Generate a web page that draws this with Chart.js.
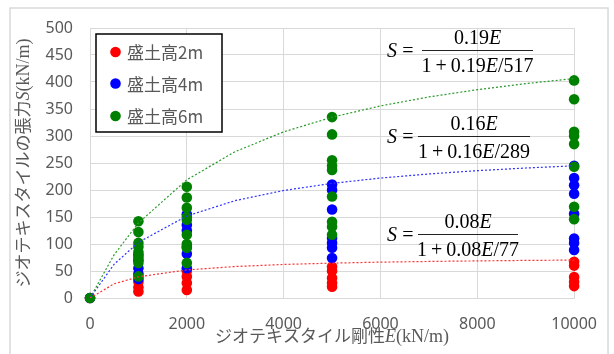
<!DOCTYPE html>
<html>
<head>
<meta charset="utf-8">
<script src="https://cdn.jsdelivr.net/npm/chart.js@4.4.0/dist/chart.umd.min.js"></script>
<style>
html, body { margin: 0; padding: 0; background: #fff; }
</style>
</head>
<body>
<canvas id="geoChart" width="614" height="354"></canvas>
<script>
// stiffness E (kN/m) at which tension was measured
const stiffness = [0, 1000, 2000, 5000, 10000];

// tension S (kN/m) per embankment height, one list per stiffness value
const tension2m = [[0], [12, 20, 30], [15, 28, 40, 50], [21, 28, 37, 50, 58], [22, 30, 39, 60, 67]];
const tension4m = [[0], [35, 45, 55, 70, 80], [55, 82, 95, 125, 135, 155], [74, 93, 102, 111, 164, 200, 210], [89, 102, 110, 156, 193, 209, 222, 245]];
const tension6m = [[0], [40, 65, 75, 85, 95, 102, 122, 142], [65, 93, 100, 117, 145, 150, 167, 186, 206], [117, 132, 141, 188, 237, 245, 255, 303, 335], [146, 169, 243, 285, 300, 308, 368, 403]];

const trendE = [0, 500, 1000, 2000, 3000, 4000, 5000, 6000, 7000, 8000, 9000, 10000];
const trend2m = [0, 26.3, 39.2, 52.0, 58.3, 62.1, 64.6, 66.4, 67.7, 68.7, 69.6, 70.2];
const trend4m = [0, 62.7, 103.0, 151.9, 180.4, 199.1, 212.3, 222.1, 229.7, 235.8, 240.7, 244.8];
const trend6m = [0, 80.3, 138.9, 219.0, 271.1, 307.7, 334.8, 355.7, 372.3, 385.8, 397.0, 406.4];

const seriesLabels = ['盛土高2m', '盛土高4m', '盛土高6m'];
const seriesColors = ['#ff0000', '#0000ff', '#008000'];
const trendColors = ['#ff3030', '#3030ff', '#2a9a2a'];

function toPoints(groups) {
    var pts = [];
    groups.forEach(function (vals, i) {
        vals.forEach(function (v) { pts.push({ x: stiffness[i], y: v }); });
    });
    return pts;
}

function toLine(ys) {
    return trendE.map(function (e, i) { return { x: e, y: ys[i] }; });
}

const allTension = [tension2m, tension4m, tension6m];
const allTrend = [trend2m, trend4m, trend6m];

var datasets = [];
for (var i = 0; i < 3; i++) {
    datasets.push({
        label: seriesLabels[i],
        data: toPoints(allTension[i]),
        backgroundColor: seriesColors[i],
        borderColor: seriesColors[i],
        borderWidth: 0,
        pointRadius: 5.3,
        clip: false,
        order: 3 - i
    });
}
for (var j = 0; j < 3; j++) {
    datasets.push({
        label: 'trend' + j,
        data: toLine(allTrend[j]),
        showLine: true,
        borderColor: trendColors[j],
        borderWidth: 1.2,
        borderDash: [2, 2],
        pointRadius: 0,
        fill: false,
        order: 0
    });
}

// draw text made of runs with different fonts, centred on cx
function drawRuns(ctx, runs, cx, baseline) {
    var total = 0;
    runs.forEach(function (r) { ctx.font = r.f; r.w = ctx.measureText(r.t).width; total += r.w; });
    var x = cx - total / 2;
    ctx.textAlign = 'left';
    ctx.textBaseline = 'alphabetic';
    runs.forEach(function (r) { ctx.font = r.f; ctx.fillText(r.t, x, baseline); x += r.w; });
}

const serif = '20px "Liberation Serif"';
const serifIt = 'italic 20px "Liberation Serif"';

function drawEquation(ctx, coef, smax, x1, x2, lineY) {
    ctx.fillStyle = '#000';
    ctx.font = serifIt;
    ctx.textAlign = 'left';
    ctx.textBaseline = 'alphabetic';
    ctx.fillText('S', 387, lineY + 7);
    ctx.font = serif;
    ctx.textAlign = 'center';
    ctx.fillText('=', 408, lineY + 7);
    ctx.strokeStyle = '#222';
    ctx.lineWidth = 1;
    ctx.beginPath();
    ctx.moveTo(x1, lineY + 0.5);
    ctx.lineTo(x2, lineY + 0.5);
    ctx.stroke();
    var cx = (x1 + x2) / 2;
    drawRuns(ctx, [{ t: coef, f: serif }, { t: 'E', f: serifIt }], cx, lineY - 6);
    drawRuns(ctx, [{ t: '1\u2009+\u2009' + coef, f: serif }, { t: 'E', f: serifIt }, { t: '/' + smax, f: serif }], cx, lineY + 22);
}

const decorPlugin = {
    id: 'decor',
    beforeDraw: function (chart) {
        var ctx = chart.ctx;
        ctx.save();
        ctx.strokeStyle = '#d9d9d9';
        ctx.lineWidth = 1.5;
        ctx.strokeRect(10, 8, 598, 360);
        ctx.restore();
    },
    afterDraw: function (chart) {
        var ctx = chart.ctx;
        ctx.save();
        // axis titles
        ctx.fillStyle = '#595959';
        drawRuns(ctx, [
            { t: 'ジオテキスタイル剛性', f: '17px "Noto Sans CJK JP"' },
            { t: 'E', f: 'italic 18px "Liberation Serif"' },
            { t: '(kN/m)', f: '18px "Liberation Serif"' }
        ], (chart.chartArea.left + chart.chartArea.right) / 2, 342);
        ctx.save();
        ctx.translate(22, (chart.chartArea.top + chart.chartArea.bottom) / 2);
        ctx.rotate(-Math.PI / 2);
        drawRuns(ctx, [
            { t: 'ジオテキスタイルの張力', f: '17px "Noto Sans CJK JP"' },
            { t: 'S', f: 'italic 18px "Liberation Serif"' },
            { t: '(kN/m)', f: '18px "Liberation Serif"' }
        ], 0, 7);
        ctx.restore();

        // legend box
        ctx.fillStyle = '#fff';
        ctx.fillRect(96, 34, 126, 98);
        ctx.strokeStyle = '#000';
        ctx.lineWidth = 1.5;
        ctx.strokeRect(96, 34, 126, 98);
        var rows = [52, 83.5, 116];
        for (var k = 0; k < 3; k++) {
            ctx.fillStyle = seriesColors[k];
            ctx.beginPath();
            ctx.arc(115.5, rows[k], 5.3, 0, Math.PI * 2);
            ctx.fill();
            ctx.fillStyle = '#595959';
            ctx.font = '17px "Noto Sans CJK JP"';
            ctx.textAlign = 'left';
            ctx.textBaseline = 'middle';
            ctx.fillText(seriesLabels[k], 127, rows[k] + 1);
        }

        // trend equations
        drawEquation(ctx, '0.19', '517', 422, 533, 50);
        drawEquation(ctx, '0.16', '289', 418, 530, 136);
        drawEquation(ctx, '0.08', '77', 418, 518, 234);
        ctx.restore();
    }
};

const config = {
    type: 'scatter',
    data: { datasets: datasets },
    options: {
        responsive: false,
        animation: false,
        layout: { padding: { top: 28, right: 39, left: 0, bottom: 0 } },
        plugins: {
            legend: { display: false },
            tooltip: { enabled: false }
        },
        scales: {
            x: {
                type: 'linear',
                min: 0,
                max: 10000,
                ticks: {
                    stepSize: 2000, color: '#595959', font: { family: 'Noto Sans', size: 16 }, padding: 17,
                    callback: function (v) { return String(v); }
                },
                grid: { color: '#d9d9d9', drawTicks: false },
                border: { color: '#d9d9d9' },
                afterFit: function (scale) { scale.height = 56; }
            },
            y: {
                min: 0,
                max: 500,
                ticks: { stepSize: 50, color: '#595959', font: { family: 'Noto Sans', size: 16 }, padding: 17 },
                grid: { color: '#d9d9d9', drawTicks: false },
                border: { color: '#d9d9d9' },
                afterFit: function (scale) { scale.width = 90; }
            }
        }
    },
    plugins: [decorPlugin]
};

var chart = new Chart('geoChart', config);
</script>
</body>
</html>
